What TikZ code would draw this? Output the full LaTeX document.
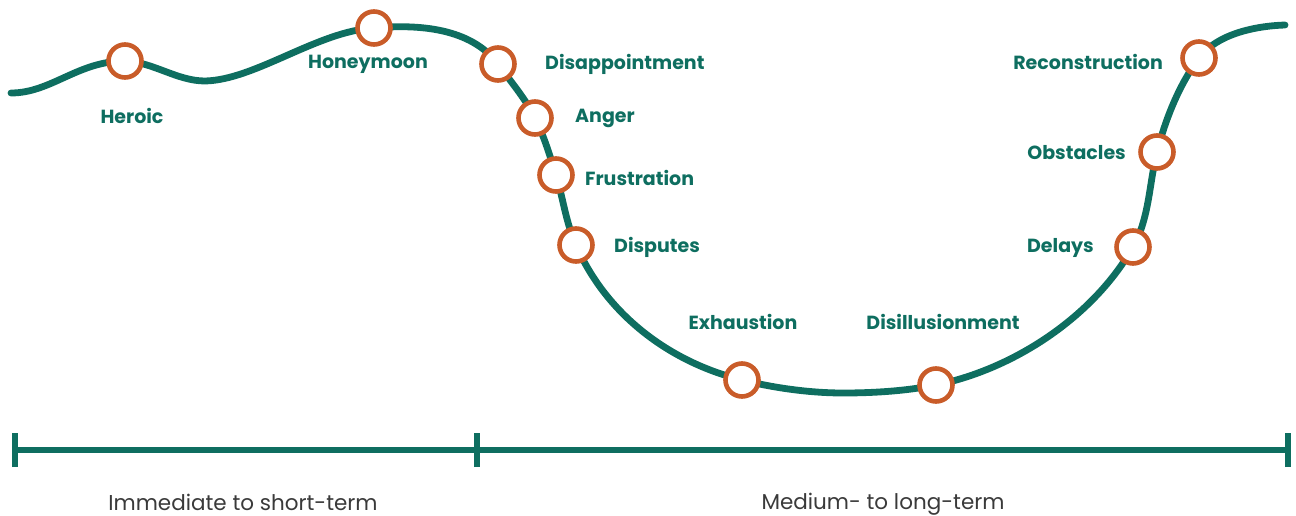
\documentclass[tikz,border=0pt]{standalone}
\usepackage{fontspec}
\setmainfont{Poppins}
\definecolor{teal}{HTML}{0E6E60}
\definecolor{rust}{HTML}{C95C29}
\definecolor{greytext}{HTML}{3A3A3A}
\tikzset{
  stage/.style={circle, draw=rust, line width=4.6pt, fill=white, minimum size=33pt, inner sep=0pt},
  lab/.style={text=teal, font=\fontsize{19}{22}\selectfont\bfseries, inner sep=0pt},
  period/.style={text=greytext, font=\fontsize{21.5}{25}\selectfont, inner sep=0pt},
  curve/.style={draw=teal, line width=6.8pt, line cap=round},
  axis/.style={draw=teal, line width=6.8pt},
}
\begin{document}
\begin{tikzpicture}[x=1pt,y=-1pt]
\useasboundingbox (0,0) rectangle (1296,516);
% key points
\coordinate (s) at (11,93);
\coordinate (dip) at (205,81);
\coordinate (bot) at (843,393);
\coordinate (e) at (1285,25);
\coordinate (h) at (125,61);
\coordinate (hm) at (374,28);
\coordinate (da) at (498,64);
\coordinate (an) at (535,118);
\coordinate (fr) at (556,175);
\coordinate (dp) at (576,245);
\coordinate (ex) at (742,380);
\coordinate (di) at (936,385);
\coordinate (dl) at (1133,247);
\coordinate (ob) at (1157,152);
\coordinate (rc) at (1199,58);
% curve
\draw[curve] (s) .. controls (51,93) and (78,61) .. (h)
  .. controls (153,62) and (177,81) .. (dip)
  .. controls (255,80) and (318,31) .. (hm)
  .. controls (419,24) and (471,28) .. (da)
  .. controls (511,82) and (525,98) .. (an)
  .. controls (544,136) and (550,156) .. (fr)
  .. controls (563,198) and (566,223) .. (dp)
  .. controls (606,314) and (669,362) .. (ex)
  .. controls (774,388) and (810,393) .. (bot)
  .. controls (874,393) and (906,391) .. (di)
  .. controls (1014,369) and (1093,317) .. (dl)
  .. controls (1149.5,218) and (1149,184) .. (ob)
  .. controls (1165.5,119) and (1179,85) .. (rc)
  .. controls (1217,34) and (1255,26) .. (e);
% stages
\node[stage] (heroic) at (h) {};
\node[stage] (honey) at (hm) {};
\node[stage] (disap) at (da) {};
\node[stage] (anger) at (an) {};
\node[stage] (frus) at (fr) {};
\node[stage] (disp) at (dp) {};
\node[stage] (exh) at (ex) {};
\node[stage] (disil) at (di) {};
\node[stage] (delay) at (dl) {};
\node[stage] (obst) at (ob) {};
\node[stage] (recon) at (rc) {};
% labels
\node[lab] (lheroic) at (132,116) {Heroic};
\node[lab] (lhoney) at (368,64) {Honeymoon};
\node[lab, anchor=west] (ldisap) at (545,64) {Disappointment};
\node[lab, anchor=west] (langer) at (575,118) {Anger};
\node[lab, anchor=west] (lfrus) at (585,178) {Frustration};
\node[lab, anchor=west] (ldisp) at (614,247) {Disputes};
\node[lab] (lexh) at (743,322) {Exhaustion};
\node[lab] (ldisil) at (943,322) {Disillusionment};
\node[lab, anchor=east] (lrecon) at (1163,62) {Reconstruction};
\node[lab, anchor=east] (lobst) at (1126,153) {Obstacles};
\node[lab, anchor=east] (ldelay) at (1094,248) {Delays};
% axis
\coordinate (a0) at (15,450);
\coordinate (a1) at (477,450);
\coordinate (a2) at (1288,450);
\draw[axis] (a0) -- (a2);
\draw[axis] ([yshift=-17pt]a0) -- ([yshift=17pt]a0);
\draw[axis] ([yshift=-17pt]a1) -- ([yshift=17pt]a1);
\draw[axis] ([yshift=-17pt]a2) -- ([yshift=17pt]a2);
\node[period] (p1) at (243,502) {Immediate to short-term};
\node[period] (p2) at (883,504) {Medium- to long-term};
\end{tikzpicture}
\end{document}
